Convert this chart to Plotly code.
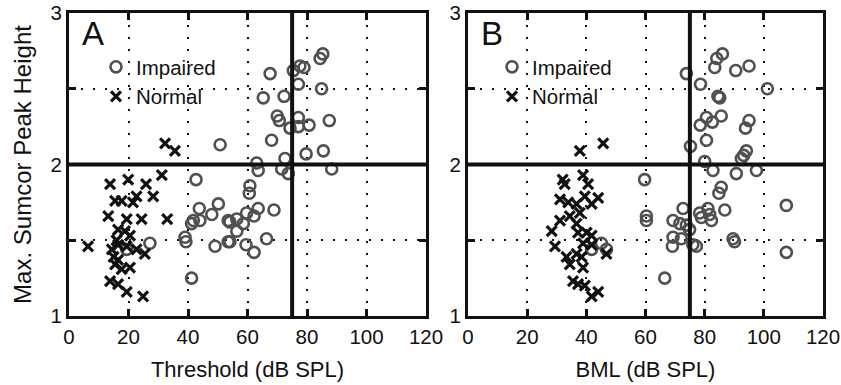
import plotly.graph_objects as go

# ---- data ----
thr_imp = [50.8, 67.6, 75.4, 77.6, 79.0, 84.4, 85.3, 77.1, 84.9, 65.3, 72.3, 70.0, 70.7, 77.1, 77.1,
           74.3, 80.7, 87.5, 68.1, 79.7, 85.5, 72.6, 63.1, 63.6, 71.5, 73.7, 88.3, 60.8, 60.6, 63.6,
           68.9, 59.7, 62.2, 56.4, 58.6, 56.4, 54.1, 66.4, 59.5, 62.2, 54.1, 42.7, 50.2, 43.8, 48.0,
           41.8, 44.0, 41.2, 53.5, 39.0, 39.3, 49.1, 53.5, 41.2, 27.2, 19.4]
pk_imp_a = [2.13, 2.60, 2.62, 2.65, 2.64, 2.70, 2.73, 2.53, 2.50, 2.44, 2.45, 2.32, 2.29, 2.31, 2.25,
            2.24, 2.26, 2.29, 2.16, 2.07, 2.09, 2.04, 2.01, 1.96, 1.97, 1.94, 1.97, 1.86, 1.81, 1.71,
            1.70, 1.68, 1.66, 1.64, 1.61, 1.56, 1.62, 1.51, 1.47, 1.42, 1.49, 1.90, 1.74, 1.71, 1.67,
            1.63, 1.63, 1.61, 1.63, 1.52, 1.49, 1.46, 1.49, 1.25, 1.48, 1.44]

thr_nor = [32.3, 35.6, 31.2, 13.8, 19.9, 25.9, 28.3, 22.7, 15.5, 17.7, 21.5, 13.2, 19.4, 24.4, 33.0,
           16.5, 18.8, 20.5, 16.0, 6.4, 14.4, 16.5, 19.4, 22.7, 25.5, 15.0, 16.5, 15.5, 20.5, 17.7,
           13.8, 16.5, 19.4, 24.9]
pk_nor_a = [2.14, 2.09, 1.93, 1.87, 1.90, 1.87, 1.79, 1.79, 1.76, 1.76, 1.75, 1.66, 1.64, 1.64, 1.64,
            1.57, 1.56, 1.53, 1.50, 1.46, 1.44, 1.47, 1.46, 1.44, 1.41, 1.39, 1.37, 1.34, 1.32, 1.31,
            1.23, 1.21, 1.16, 1.13]

bml_imp = [73.8, 86.0, 84.1, 83.4, 90.5, 95.0, 78.6, 84.5, 85.1, 101.2, 85.6, 80.6, 78.5, 82.6, 95.0,
           93.8, 80.6, 75.2, 94.1, 93.2, 92.4, 80.0, 82.8, 90.7, 97.5, 59.7, 60.3, 60.3, 45.1, 46.8,
           41.8, 66.5, 107.6, 107.6, 72.7, 69.3, 71.6, 73.8, 74.9, 69.3, 72.1, 69.1, 76.0, 77.2,
           81.1, 78.3, 81.7, 82.3, 78.9, 86.8, 85.6, 84.8, 89.6, 90.1]
pk_imp_b = [2.60, 2.73, 2.70, 2.64, 2.62, 2.65, 2.53, 2.45, 2.44, 2.50, 2.32, 2.31, 2.26, 2.28, 2.29,
            2.24, 2.16, 2.12, 2.09, 2.06, 2.04, 2.02, 1.96, 1.94, 1.96, 1.90, 1.66, 1.63, 1.48, 1.44,
            1.44, 1.25, 1.73, 1.42, 1.71, 1.63, 1.61, 1.60, 1.57, 1.52, 1.51, 1.46, 1.47, 1.46,
            1.71, 1.68, 1.67, 1.63, 1.65, 1.70, 1.85, 1.81, 1.51, 1.49]

bml_nor = [37.8, 45.7, 32.0, 32.7, 38.9, 40.6, 31.1, 33.9, 39.5, 44.0, 41.8, 36.7, 31.1, 34.4, 37.8,
           36.7, 28.3, 37.2, 40.1, 41.8, 29.4, 38.9, 41.8, 46.8, 33.3, 36.7, 34.4, 38.9, 35.5, 37.2,
           39.5, 44.0, 41.8, 38.4]
pk_nor_b = [2.09, 2.14, 1.90, 1.87, 1.93, 1.87, 1.77, 1.75, 1.79, 1.78, 1.74, 1.74, 1.63, 1.66, 1.68,
            1.61, 1.56, 1.55, 1.55, 1.53, 1.46, 1.48, 1.47, 1.41, 1.39, 1.41, 1.34, 1.32, 1.23, 1.21,
            1.20, 1.16, 1.13, 1.39]

x_ticks = [0, 20, 40, 60, 80, 100, 120]
y_ticks = [1, 1.5, 2, 2.5, 3]
y_ticktext = ["1", "", "2", "", "3"]
x_crit = 75
y_crit = 2
panel_labels = ["A", "B"]
x_titles = ["Threshold (dB SPL)", "BML (dB SPL)"]
y_title = "Max. Sumcor Peak Height"

FONT = "Liberation Sans, Arial, sans-serif"
GRAY = "#505050"
BLACK = "#111111"

fig = go.Figure()

imp_marker = dict(symbol="circle-open", size=11, color=GRAY, line=dict(width=2.6, color=GRAY))
nor_marker = dict(symbol="x-thin", size=10, color=BLACK, line=dict(width=3.2, color=BLACK))

fig.add_trace(go.Scatter(x=thr_imp, y=pk_imp_a, mode="markers", name="Impaired",
                         marker=imp_marker, xaxis="x", yaxis="y", legend="legend"))
fig.add_trace(go.Scatter(x=thr_nor, y=pk_nor_a, mode="markers", name="Normal",
                         marker=nor_marker, xaxis="x", yaxis="y", legend="legend"))
fig.add_trace(go.Scatter(x=bml_imp, y=pk_imp_b, mode="markers", name="Impaired",
                         marker=imp_marker, xaxis="x2", yaxis="y2", legend="legend2"))
fig.add_trace(go.Scatter(x=bml_nor, y=pk_nor_b, mode="markers", name="Normal",
                         marker=nor_marker, xaxis="x2", yaxis="y2", legend="legend2"))

ax_common = dict(showline=True, linewidth=3, linecolor=BLACK, mirror="ticks",
                 ticks="inside", ticklen=7, tickwidth=3, tickcolor=BLACK,
                 showgrid=True, gridcolor=BLACK, gridwidth=1.5, griddash="2px,10px",
                 zeroline=False, tickfont=dict(family=FONT, size=20.5, color=BLACK))

L, R, T, B = 69, 18, 13, 69
W, H = 841, 385
pw = W - L - R
ph = H - T - B
dA = [0, (426 - L) / pw]
dB = [(468 - L) / pw, 1]

fig.update_layout(
    width=W, height=H,
    margin=dict(l=L, r=R, t=T, b=B),
    paper_bgcolor="white", plot_bgcolor="white",
    font=dict(family=FONT, color=BLACK),
    xaxis=dict(domain=dA, range=[0, 120], tickvals=x_ticks, anchor="y",
               title=dict(text=x_titles[0], font=dict(size=22), standoff=16), automargin=False, **ax_common),
    yaxis=dict(domain=[0, 1], range=[1, 3], tickvals=y_ticks, ticktext=y_ticktext, anchor="x",
               title=dict(text=y_title, font=dict(size=24), standoff=13), automargin=False, **ax_common),
    xaxis2=dict(domain=dB, range=[0, 120], tickvals=x_ticks, anchor="y2",
                title=dict(text=x_titles[1], font=dict(size=22), standoff=16), automargin=False, **ax_common),
    yaxis2=dict(domain=[0, 1], range=[1, 3], tickvals=y_ticks, ticktext=y_ticktext, anchor="x2",
                automargin=False, **ax_common),
    legend=dict(x=(96 - L) / pw, y=(H - 47 - B) / ph, xanchor="left", yanchor="top",
                bgcolor="rgba(0,0,0,0)", font=dict(size=20.5), tracegroupgap=0, itemwidth=30),
    legend2=dict(x=(492 - L) / pw, y=(H - 47 - B) / ph, xanchor="left", yanchor="top",
                 bgcolor="rgba(0,0,0,0)", font=dict(size=20.5), tracegroupgap=0, itemwidth=30),
    showlegend=True,
)

for xr, yr in (("x", "y"), ("x2", "y2")):
    fig.add_shape(type="line", xref=xr, yref=yr + " domain", x0=x_crit, x1=x_crit, y0=0, y1=1,
                  line=dict(color=BLACK, width=4))
    fig.add_shape(type="line", xref=xr + " domain", yref=yr, x0=0, x1=1, y0=y_crit, y1=y_crit,
                  line=dict(color=BLACK, width=4))

for lab, xr, yr in zip(panel_labels, ("x", "x2"), ("y", "y2")):
    fig.add_annotation(text=lab, xref=xr + " domain", yref=yr + " domain", x=0.032, y=1.0,
                       xanchor="left", yanchor="top", showarrow=False,
                       font=dict(family=FONT, size=33, color=BLACK))

fig.write_html("out.html")
